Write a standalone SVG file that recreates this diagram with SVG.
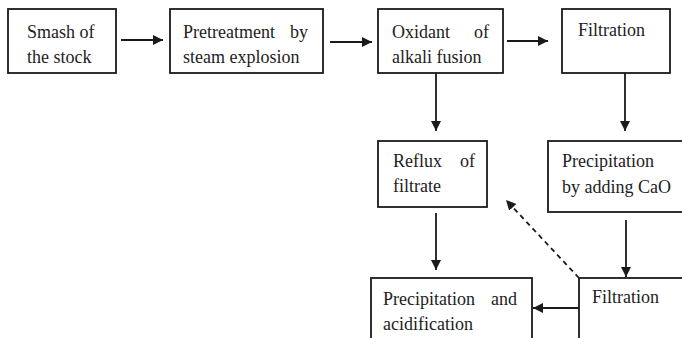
<svg xmlns="http://www.w3.org/2000/svg" width="682" height="338" viewBox="0 0 682 338">
<defs>
<style>
.box{fill:#fff;stroke:#1a1a1a;stroke-width:1.8}
.t{font-family:"Liberation Serif","Times New Roman",serif;font-size:18px;fill:#222}
.e{text-anchor:end}
.ln{stroke:#1a1a1a;stroke-width:1.8;fill:none}
.dash{stroke:#1a1a1a;stroke-width:1.8;fill:none;stroke-dasharray:5,4}
</style>
<marker id="ah" viewBox="0 0 10 10" refX="10" refY="5" markerWidth="10" markerHeight="10" markerUnits="userSpaceOnUse" orient="auto">
<path d="M0,0 L10,5 L0,10 z" fill="#1a1a1a"/>
</marker>
</defs>
<rect width="682" height="338" fill="#fff"/>
<g id="n1"><rect class="box" x="8" y="9" width="108" height="64"/>
<text class="t" x="27" y="38">Smash of</text><text class="t" x="27" y="63">the stock</text></g>
<g id="n2"><rect class="box" x="170" y="9" width="153" height="64"/>
<text class="t" x="183" y="38">Pretreatment</text><text class="t e" x="308" y="38">by</text>
<text class="t" x="183" y="63">steam explosion</text></g>
<g id="n3"><rect class="box" x="378" y="9" width="125" height="64"/>
<text class="t" x="392" y="38">Oxidant</text><text class="t e" x="489" y="38">of</text>
<text class="t" x="392" y="63">alkali fusion</text></g>
<g id="n4"><rect class="box" x="562" y="9" width="108" height="64"/>
<text class="t" x="578" y="36">Filtration</text></g>
<g id="n5"><rect class="box" x="378" y="141" width="109" height="66"/>
<text class="t" x="393" y="167">Reflux</text><text class="t e" x="475" y="167">of</text>
<text class="t" x="393" y="192">filtrate</text></g>
<g id="n6"><rect class="box" x="548" y="141" width="140" height="71"/>
<text class="t" x="562" y="167">Precipitation</text>
<text class="t" x="562" y="193">by adding CaO</text></g>
<g id="n7"><rect class="box" x="579" y="278" width="120" height="70"/>
<text class="t" x="592" y="303">Filtration</text></g>
<g id="n8"><rect class="box" x="371" y="278" width="161" height="70"/>
<text class="t" x="383" y="305">Precipitation</text><text class="t e" x="517" y="305">and</text>
<text class="t" x="383" y="330">acidification</text></g>
<g id="connectors">
<line class="ln" x1="121" y1="40" x2="163" y2="40" marker-end="url(#ah)"/>
<line class="ln" x1="330" y1="42" x2="372" y2="42" marker-end="url(#ah)"/>
<line class="ln" x1="507" y1="41" x2="548" y2="41" marker-end="url(#ah)"/>
<line class="ln" x1="436" y1="73" x2="436" y2="131" marker-end="url(#ah)"/>
<line class="ln" x1="625" y1="73" x2="625" y2="131" marker-end="url(#ah)"/>
<line class="ln" x1="436" y1="213" x2="436" y2="270" marker-end="url(#ah)"/>
<line class="ln" x1="626" y1="220" x2="626" y2="277" marker-end="url(#ah)"/>
<line class="ln" x1="579" y1="308" x2="533" y2="308" marker-end="url(#ah)"/>
<line class="dash" x1="579" y1="278" x2="506" y2="200" marker-end="url(#ah)"/>
</g>
</svg>
